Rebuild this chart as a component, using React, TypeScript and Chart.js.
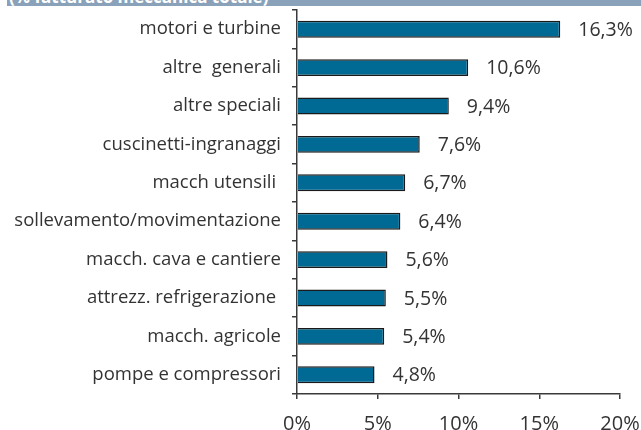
import React, { useEffect, useRef } from "react";
import { Chart, registerables } from "chart.js";

Chart.register(...registerables);

const categories = [
  "motori e turbine",
  "altre  generali",
  "altre speciali",
  "cuscinetti-ingranaggi",
  "macch utensili ",
  "sollevamento/movimentazione",
  "macch. cava e cantiere",
  "attrezz. refrigerazione ",
  "macch. agricole",
  "pompe e compressori",
];
const values = [16.3, 10.6, 9.4, 7.6, 6.7, 6.4, 5.6, 5.5, 5.4, 4.8];
const xTicks = [0, 5, 10, 15, 20];
const headerText = "(% fatturato meccanica totale)";

const FONT = "'Open Sans', 'Noto Sans', sans-serif";
const TEXT = "#333333";
const AXIS = "#3a3a3a";

const fmt = (v: number) => v.toFixed(1).replace(".", ",") + "%";

const valueLabels = {
  id: "valueLabels",
  afterDatasetsDraw(chart: any) {
    const ctx = chart.ctx;
    const meta = chart.getDatasetMeta(0);
    ctx.save();
    ctx.font = `19.5px ${FONT}`;
    ctx.fillStyle = TEXT;
    ctx.textAlign = "left";
    ctx.textBaseline = "middle";
    meta.data.forEach((bar: any, i: number) => {
      ctx.fillText(fmt(values[i]), bar.x + 18, bar.y + 1);
    });
    ctx.restore();
  },
};

export default function App() {
  const ref = useRef<HTMLCanvasElement>(null);
  useEffect(() => {
    if (!ref.current) return;
    const chart = new Chart(ref.current, {
      type: "bar",
      data: {
        labels: categories,
        datasets: [
          {
            data: values,
            backgroundColor: "#006a94",
            borderColor: "#1a1a1a",
            borderWidth: 1.5,
            barPercentage: 0.44,
            categoryPercentage: 1,
          },
        ],
      },
      options: {
        indexAxis: "y",
        responsive: false,
        animation: false,
        layout: { padding: { top: 10, right: 21, left: 0, bottom: 0 } },
        plugins: { legend: { display: false }, tooltip: { enabled: false } },
        scales: {
          x: {
            min: 0,
            max: 20,
            afterBuildTicks: (axis: any) => {
              axis.ticks = xTicks.map((v) => ({ value: v }));
            },
            afterFit: (axis: any) => {
              axis.height = 36;
              axis.paddingRight = 0;
              axis.paddingLeft = 0;
            },
            grid: { drawOnChartArea: false, drawTicks: true, tickLength: 5, color: AXIS, lineWidth: 1.5 },
            border: { color: AXIS, width: 1.5 },
            ticks: {
              color: TEXT,
              font: { family: FONT, size: 20 },
              padding: 13,
              maxRotation: 0,
              callback: (v: any) => v + "%",
            },
          },
          y: {
            afterFit: (axis: any) => {
              axis.width = 297;
              axis.paddingTop = 0;
              axis.paddingBottom = 0;
            },
            grid: { drawOnChartArea: false, drawTicks: true, tickLength: 5, color: AXIS, lineWidth: 1.5, offset: true },
            border: { color: AXIS, width: 1.5 },
            ticks: {
              color: TEXT,
              font: { family: FONT, size: 18.5 },
              padding: 11,
              autoSkip: false,
            },
          },
        },
      },
      plugins: [valueLabels],
    });
    return () => chart.destroy();
  }, []);
  return (
    <div style={{ position: "absolute", left: 0, top: 0, width: 641, height: 430, background: "#fff" }}>
      <div
        style={{
          position: "absolute",
          left: 7,
          top: 0,
          width: 634,
          height: 6,
          background: "#8aa2b9",
          overflow: "hidden",
        }}
      >
        <div
          style={{
            position: "absolute",
            left: 2,
            top: -13,
            color: "#fff",
            fontFamily: FONT,
            fontWeight: "bold",
            fontSize: 17,
            lineHeight: "20px",
            whiteSpace: "nowrap",
          }}
        >
          {headerText}
        </div>
      </div>
      <canvas ref={ref} width={641} height={430} style={{ display: "block" }} />
    </div>
  );
}
